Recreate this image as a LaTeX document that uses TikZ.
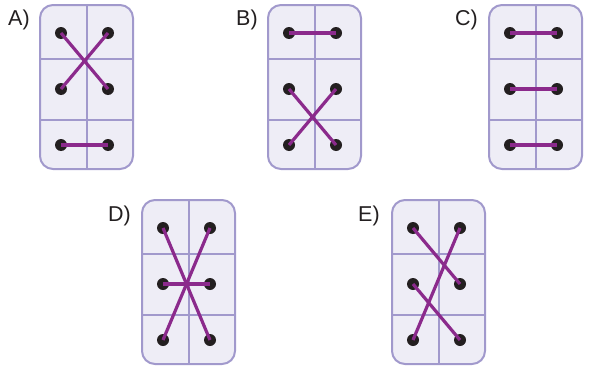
\documentclass[tikz,border=0pt]{standalone}
\usepackage{fontspec}
\setmainfont{Liberation Sans}
\definecolor{boxfill}{HTML}{EEEDF6}
\definecolor{boxline}{HTML}{A199CC}
\definecolor{lace}{HTML}{8B2A8C}
\definecolor{ink}{HTML}{231F20}
\tikzset{
  panelbox/.style={draw=boxline, fill=boxfill, line width=2pt, rounded corners=13pt},
  grid line/.style={draw=boxline, line width=2pt},
  hole/.style={circle, fill=ink, inner sep=0pt, minimum size=12pt},
  lacing/.style={draw=lace, line width=3.2pt},
  lbl/.style={anchor=base west, inner sep=0pt, text=ink, font=\fontsize{21.5}{25}\selectfont}
}
\newcommand{\mypanel}[3]{%
  \begin{scope}[shift={(#2,#3)}]
    \path[panelbox] (0,0) rectangle (93,164);
    \draw[grid line] (0,54) -- (93,54) (0,115) -- (93,115) (47,0) -- (47,164);
    \node[hole] (#1tl) at (21,28) {};
    \node[hole] (#1tr) at (68,28) {};
    \node[hole] (#1ml) at (21,84) {};
    \node[hole] (#1mr) at (68,84) {};
    \node[hole] (#1bl) at (21,140) {};
    \node[hole] (#1br) at (68,140) {};
  \end{scope}}
\begin{document}
\begin{tikzpicture}[x=1pt, y=-1pt]
\useasboundingbox (0,0) rectangle (589,372);
% panels
\mypanel{a}{40}{5}
\mypanel{b}{268}{5}
\mypanel{c}{489}{5}
\mypanel{d}{142}{200}
\mypanel{e}{392}{200}
% labels
\node[lbl] (la) at (8,25) {A)};
\node[lbl] (lb) at (236,25) {B)};
\node[lbl] (lc) at (455,25) {C)};
\node[lbl] (ld) at (108,221) {D)};
\node[lbl] (le) at (358,221) {E)};
% lacing A
\draw[lacing] (atl.center) -- (amr.center);
\draw[lacing] (atr.center) -- (aml.center);
\draw[lacing] (abl.center) -- (abr.center);
% lacing B
\draw[lacing] (btl.center) -- (btr.center);
\draw[lacing] (bml.center) -- (bbr.center);
\draw[lacing] (bmr.center) -- (bbl.center);
% lacing C
\draw[lacing] (ctl.center) -- (ctr.center);
\draw[lacing] (cml.center) -- (cmr.center);
\draw[lacing] (cbl.center) -- (cbr.center);
% lacing D
\draw[lacing] (dtl.center) -- (dbr.center);
\draw[lacing] (dtr.center) -- (dbl.center);
\draw[lacing] (dml.center) -- (dmr.center);
% lacing E
\draw[lacing] (etl.center) -- (emr.center);
\draw[lacing] (etr.center) -- (ebl.center);
\draw[lacing] (eml.center) -- (ebr.center);
\end{tikzpicture}
\end{document}
